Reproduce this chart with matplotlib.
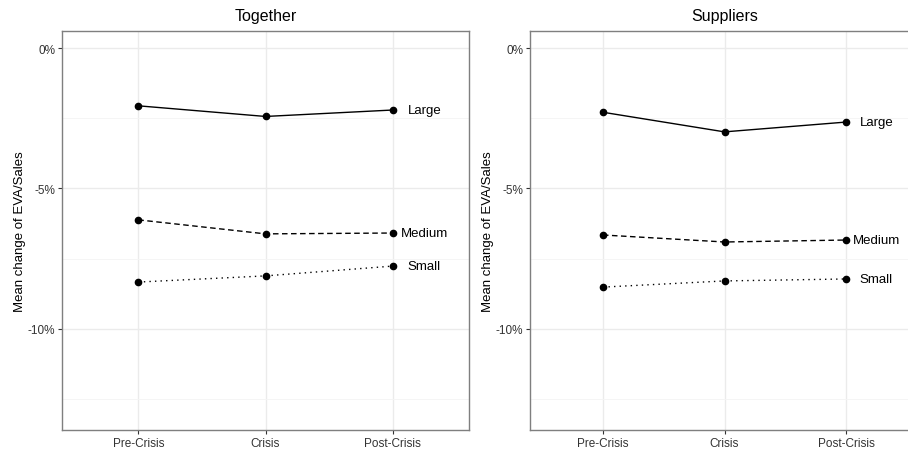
import matplotlib.pyplot as plt
from matplotlib.ticker import FixedLocator, FuncFormatter

plt.rcParams['font.family'] = ['Liberation Sans', 'DejaVu Sans']

periods = ["Pre-Crisis", "Crisis", "Post-Crisis"]
sizes = ["Large", "Medium", "Small"]
styles = {"Large": "-", "Medium": (0, (4, 2.5)), "Small": (0, (1, 3))}

# mean change of EVA/Sales in percent
together = {
    "Large": [-2.05, -2.43, -2.20],
    "Medium": [-6.12, -6.62, -6.59],
    "Small": [-8.34, -8.12, -7.77],
}
suppliers = {
    "Large": [-2.28, -2.98, -2.63],
    "Medium": [-6.66, -6.91, -6.84],
    "Small": [-8.52, -8.30, -8.23],
}

fig = plt.figure(figsize=(9.08, 4.52), dpi=100)
W, H = 908, 452
ax1 = fig.add_axes([62 / W, 21 / H, 407 / W, 399 / H])
ax2 = fig.add_axes([530 / W, 21 / H, 389 / W, 399 / H])

x = [1, 2, 3]
for ax, data, title in [(ax1, together, "Together"), (ax2, suppliers, "Suppliers")]:
    for s in sizes:
        ax.plot(x, data[s], color="black", linestyle=styles[s], linewidth=1.0,
                marker="o", markersize=4.5, zorder=3)
        ax.text(3.25, data[s][-1], s, ha="center", va="center", fontsize=9.5, color="black")
    ax.set_xlim(0.4, 3.6)
    ax.set_ylim(-13.62, 0.62)
    ax.set_xticks(x)
    ax.set_xticklabels(periods)
    ax.yaxis.set_major_locator(FixedLocator([0, -5, -10]))
    ax.yaxis.set_minor_locator(FixedLocator([-2.5, -7.5, -12.5]))
    ax.yaxis.set_major_formatter(FuncFormatter(lambda v, p: "%d%%" % round(v)))
    ax.grid(True, which="major", color="#EBEBEB", linewidth=1.0)
    ax.grid(True, which="minor", axis="y", color="#F4F4F4", linewidth=0.6)
    ax.set_axisbelow(True)
    ax.tick_params(axis="both", which="major", length=3, color="#333333",
                   labelsize=8.5, labelcolor="#333333", pad=2)
    ax.tick_params(axis="y", which="minor", length=0)
    for sp in ax.spines.values():
        sp.set_color("#7F7F7F")
        sp.set_linewidth(1.0)
    ax.set_ylabel("Mean change of EVA/Sales", fontsize=9.5, labelpad=1)
    ax.set_title(title, fontsize=11.5, pad=8)

fig.savefig("out.png", dpi=100)
plt.close()
